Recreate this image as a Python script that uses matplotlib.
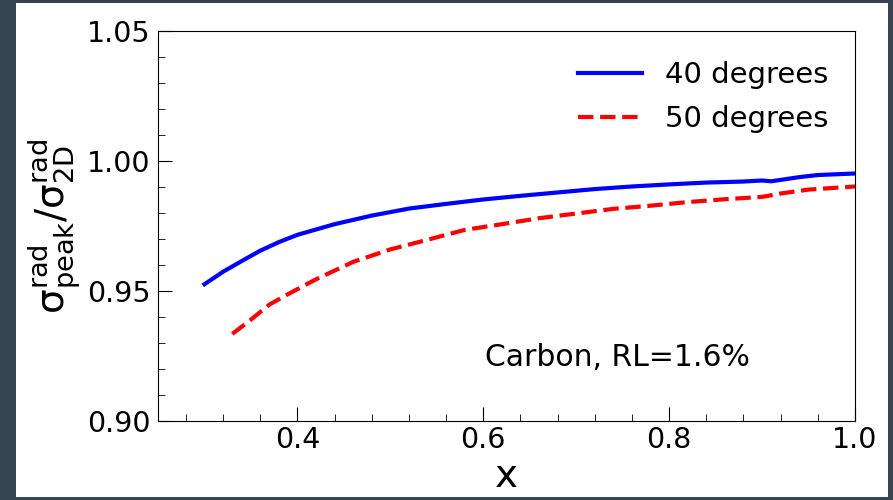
import matplotlib
matplotlib.use("Agg")
import matplotlib.pyplot as plt
from matplotlib.patches import Rectangle
from matplotlib.ticker import MultipleLocator, FormatStrFormatter

# 40 degrees
x40 = [0.30, 0.32, 0.34, 0.36, 0.38, 0.40, 0.44, 0.48, 0.52, 0.56, 0.60, 0.64,
       0.68, 0.72, 0.76, 0.80, 0.84, 0.88, 0.90, 0.91, 0.94, 0.96, 1.00]
y40 = [0.9526, 0.9574, 0.9615, 0.9655, 0.9688, 0.9716, 0.9757, 0.9790, 0.9817,
       0.9835, 0.9852, 0.9866, 0.9879, 0.9892, 0.9902, 0.9910, 0.9917, 0.9921,
       0.9925, 0.9922, 0.9938, 0.9946, 0.9952]

# 50 degrees
x50 = [0.33, 0.35, 0.37, 0.39, 0.42, 0.46, 0.50, 0.54, 0.58, 0.62, 0.66, 0.70,
       0.74, 0.78, 0.82, 0.86, 0.90, 0.92, 0.95, 1.00]
y50 = [0.9335, 0.9390, 0.9448, 0.9488, 0.9545, 0.9612, 0.9660, 0.9697, 0.9735,
       0.9757, 0.9780, 0.9798, 0.9816, 0.9828, 0.9842, 0.9853, 0.9862, 0.9875,
       0.9890, 0.9902]

fig = plt.figure(figsize=(8.93, 5.0), dpi=100, facecolor='#36454f')
fig.patches.append(Rectangle((16/893, 3/500), (888-16)/893, (497-3)/500,
                             transform=fig.transFigure, facecolor='white',
                             edgecolor='none', zorder=-10))
ax = fig.add_axes([158/893, 1-421/500, (855-158)/893, (421-31)/500])

ax.plot(x40, y40, color='blue', lw=3, label='40 degrees')
ax.plot(x50, y50, color='red', lw=3, ls='--', label='50 degrees')

ax.set_xlim(0.25, 1.0)
ax.set_ylim(0.90, 1.05)
ax.xaxis.set_major_locator(MultipleLocator(0.2))
ax.xaxis.set_minor_locator(MultipleLocator(0.04))
ax.yaxis.set_major_locator(MultipleLocator(0.05))
ax.yaxis.set_minor_locator(MultipleLocator(0.01))
ax.tick_params(which='both', direction='in', labelsize=20.5)
ax.tick_params(which='major', length=10)
ax.tick_params(which='minor', length=5)
ax.tick_params(axis='y', pad=5.5)
ax.yaxis.set_major_formatter(FormatStrFormatter('%.2f'))
ax.xaxis.set_major_formatter(FormatStrFormatter('%.1f'))

ax.set_xlabel('x', fontsize=28, labelpad=2)
ax.set_ylabel(r'$\mathrm{\sigma^{rad}_{peak}/\sigma^{rad}_{2D}}$', fontsize=28, labelpad=3)

ax.legend(loc='upper right', bbox_to_anchor=(1.0, 0.99), frameon=False,
          fontsize=21, handlelength=2.2, handletextpad=0.8, labelspacing=0.55)
ax.text(0.6585, 0.164, 'Carbon, RL=1.6%', transform=ax.transAxes, fontsize=21.5,
        ha='center', va='center')

fig.savefig('out.png', dpi=100, facecolor=fig.get_facecolor())
